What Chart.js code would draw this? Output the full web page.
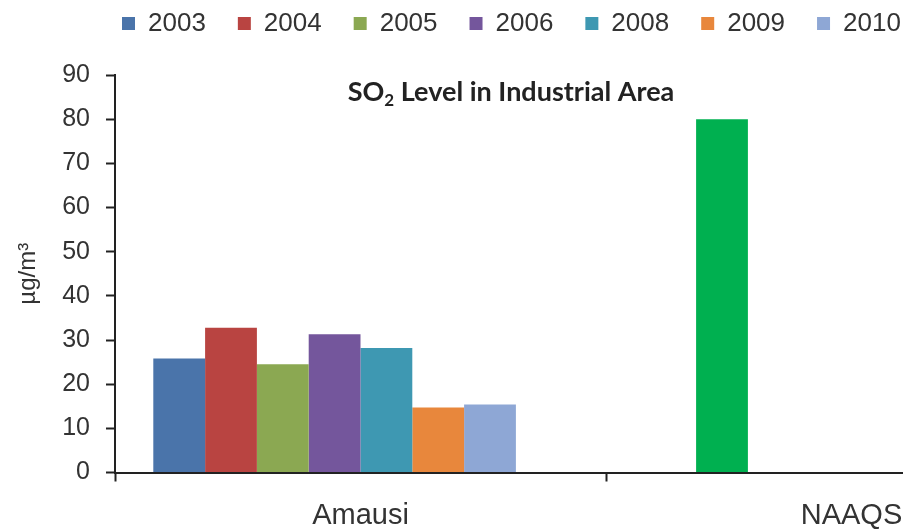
<!DOCTYPE html>
<html>
<head>
<meta charset="utf-8">
<script src="https://cdn.jsdelivr.net/npm/chart.js@4.4.0/dist/chart.umd.min.js"></script>
<style>
  body { margin: 0; background: #fff; }
  #frame { width: 903px; height: 532px; overflow: hidden; }
  #wide { width: 1110px; height: 532px; }
</style>
</head>
<body>
<div id="frame"><div id="wide"><canvas id="so2Chart"></canvas></div></div>
<script>
// data
const categories = ["Amausi", "NAAQS"];
const years = ["2003", "2004", "2005", "2006", "2008", "2009", "2010"];
const amausiLevels = [25.8, 32.8, 24.5, 31.3, 28.2, 14.7, 15.4];
const naaqsLimit = 80;
const yMin = 0;
const yMax = 90;
const yStep = 10;

const yearColors = ["#4a74aa", "#b94441", "#8ba852", "#74569c", "#3e98b2", "#e8873c", "#8ea7d5"];
const naaqsColor = "#00b050";
const axisColor = "#222";
const textColor = "#333";

// the NAAQS bar sits in the 2004 slot, coloured green
const datasets = years.map((year, i) => ({
  label: year,
  data: [amausiLevels[i], i === 1 ? naaqsLimit : null],
  backgroundColor: i === 1 ? [yearColors[i], naaqsColor] : yearColors[i],
}));
// empty series that leaves the blank slot at the end of each group
datasets.push({ label: "", data: [null, null], backgroundColor: "transparent" });

// move the legend row to where the original has it
const legendOffset = {
  id: "legendOffset",
  afterLayout(chart) {
    chart.legend.left = 90;
    chart.legend.top = -21.5;
  },
};

// "SO2 Level in Industrial Area" drawn inside the plot, with a subscript 2
const innerTitle = {
  id: "innerTitle",
  afterDraw(chart) {
    const ctx = chart.ctx;
    const big = "bold 27px Lato";
    const small = "bold 17px Lato";
    ctx.save();
    ctx.font = big;
    const w1 = ctx.measureText("SO").width;
    const w3 = ctx.measureText(" Level in Industrial Area").width;
    ctx.font = small;
    const w2 = ctx.measureText("2").width;
    let x = 511 - (w1 + w2 + w3) / 2;
    const y = 100.5;
    ctx.fillStyle = "#222";
    ctx.textBaseline = "alphabetic";
    ctx.font = big;
    ctx.fillText("SO", x, y);
    x += w1;
    ctx.font = small;
    ctx.fillText("2", x, y + 5);
    x += w2;
    ctx.font = big;
    ctx.fillText(" Level in Industrial Area", x, y);
    ctx.restore();
  },
};

new Chart(document.getElementById("so2Chart"), {
  type: "bar",
  data: { labels: categories, datasets: datasets },
  plugins: [legendOffset, innerTitle],
  options: {
    responsive: true,
    maintainAspectRatio: false,
    animation: false,
    layout: { padding: { top: 7, right: 13, bottom: 0, left: 0 } },
    datasets: { bar: { categoryPercentage: 0.844, barPercentage: 1.0 } },
    plugins: {
      tooltip: { enabled: false },
      legend: {
        position: "top",
        align: "start",
        labels: {
          boxWidth: 13,
          boxHeight: 13,
          padding: 32,
          color: textColor,
          font: { family: "Liberation Sans", size: 26 },
          filter: (item) => item.text !== "",
        },
      },
    },
    scales: {
      x: {
        offset: true,
        grid: {
          offset: true,
          drawOnChartArea: false,
          tickLength: 9,
          tickWidth: 2,
          tickColor: axisColor,
        },
        border: { display: true, color: axisColor, width: 2 },
        ticks: {
          padding: 17,
          color: textColor,
          font: { family: "Liberation Sans", size: 29 },
          maxRotation: 0,
        },
        afterFit(scale) {
          scale.height = 59.5;
        },
      },
      y: {
        min: yMin,
        max: yMax,
        grid: {
          drawOnChartArea: false,
          tickLength: 9,
          tickWidth: 2,
          tickColor: axisColor,
        },
        border: { display: true, color: axisColor, width: 2 },
        ticks: {
          stepSize: yStep,
          padding: 16,
          color: textColor,
          font: { family: "Liberation Sans", size: 25 },
        },
        title: {
          display: true,
          text: "µg/m³",
          color: textColor,
          padding: { top: 14, bottom: 4 },
          font: { family: "Liberation Sans", size: 24 },
        },
        afterFit(scale) {
          scale.width = 115;
        },
      },
    },
  },
});
</script>
</body>
</html>
